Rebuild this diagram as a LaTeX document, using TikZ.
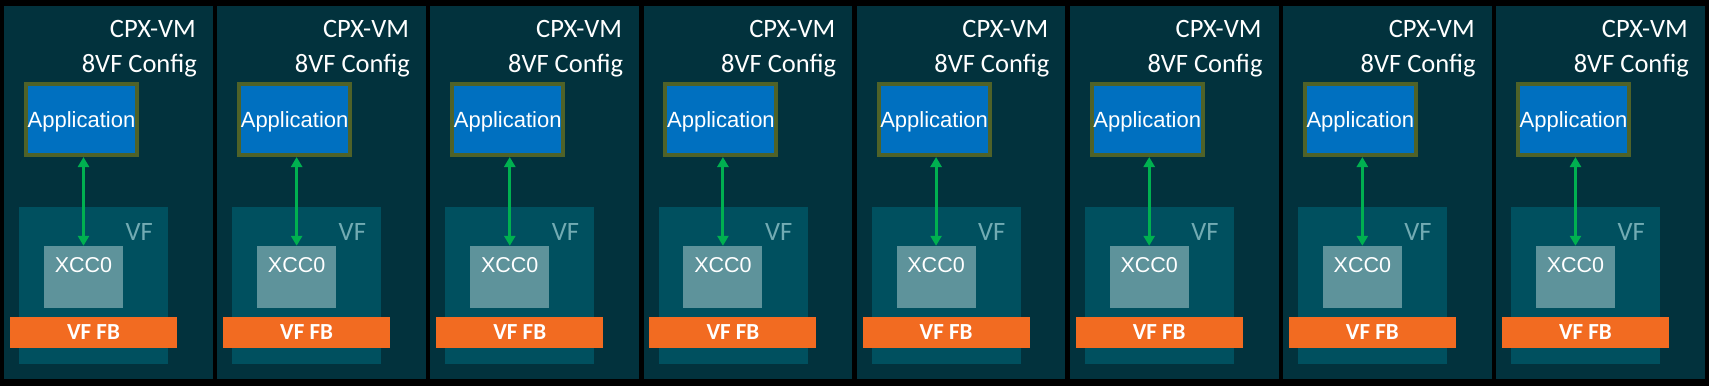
\documentclass[tikz,border=0pt]{standalone}
\usepackage{fontspec}
\setmainfont{Carlito}
\newfontfamily\arialfont{Liberation Sans}
\usetikzlibrary{arrows.meta}

\definecolor{vmbg}{HTML}{02323D}
\definecolor{vfbg}{HTML}{00505F}
\definecolor{vftext}{HTML}{72ABB3}
\definecolor{xccfill}{HTML}{5E939B}
\definecolor{appblue}{HTML}{0070C0}
\definecolor{appedge}{HTML}{4F6228}
\definecolor{fborange}{HTML}{F26B21}
\definecolor{linkgreen}{HTML}{00B050}

\begin{document}
\begin{tikzpicture}[x=1pt, y=-1pt,
    vmpanel/.style={fill=vmbg, anchor=north west, inner sep=0pt,
                    minimum width=208.6pt, minimum height=373pt},
    vmtitle/.style={text=white, anchor=base east, inner sep=0pt,
                    font=\fontsize{26.5}{31}\selectfont},
    appbox/.style={draw=appedge, line width=4pt, fill=appblue, text=white,
                   inner sep=0pt, minimum width=111pt, minimum height=71pt,
                   text height=15.8pt, text depth=0pt,
                   font=\arialfont\fontsize{22}{26}\selectfont},
    vfbox/.style={fill=vfbg, anchor=north west, inner sep=0pt,
                  minimum width=149pt, minimum height=157pt},
    vflabel/.style={text=vftext, anchor=base east, inner sep=0pt,
                    font=\fontsize{26.5}{31}\selectfont},
    xccbox/.style={fill=xccfill, inner sep=0pt,
                   minimum width=79pt, minimum height=62pt},
    xcctext/.style={text=white, anchor=base, inner sep=0pt,
                    font=\arialfont\fontsize{21.5}{26}\selectfont},
    fbbar/.style={fill=fborange, text=white, inner sep=0pt,
                  minimum width=167pt, minimum height=31pt,
                  text height=14.8pt, text depth=0pt,
                  font=\bfseries\fontsize{23}{27}\selectfont},
    link/.style={draw=linkgreen, line width=3pt,
                 {Triangle[width=11pt,length=10pt]}-{Triangle[width=11pt,length=10pt]}}
]
    \useasboundingbox (0,0) rectangle (1709,386);
    \fill[black] (0,0) rectangle (1709,386);

    \foreach \i in {1,...,8} {
      \begin{scope}[xshift={(\i-1)*213.14}]
        % --- VM panel ---
        \node[vmpanel] (vm\i) at (4,6) {};
        \node[vmtitle] (cpx\i) at (196,37.5) {CPX-VM};
        \node[vmtitle] (cfg\i) at (197,72.5) {8VF Config};

        % --- Application ---
        \node[appbox] (app\i) at (81.5,119.5) {Application};

        % --- VF with XCC0 and FB ---
        \node[vfbox] (vf\i) at (19,207) {};
        \node[vflabel] (vft\i) at (153,240) {VF};
        \node[xccbox] (xcc\i) at (83.5,277) {};
        \node[xcctext] (xcct\i) at (83.5,272) {XCC0};
        \node[fbbar] (fb\i) at (93.5,332.5) {VF FB};

        % --- Connection ---
        \draw[link] (xcc\i.north |- app\i.south) -- (xcc\i.north);
      \end{scope}
    }
\end{tikzpicture}
\end{document}
